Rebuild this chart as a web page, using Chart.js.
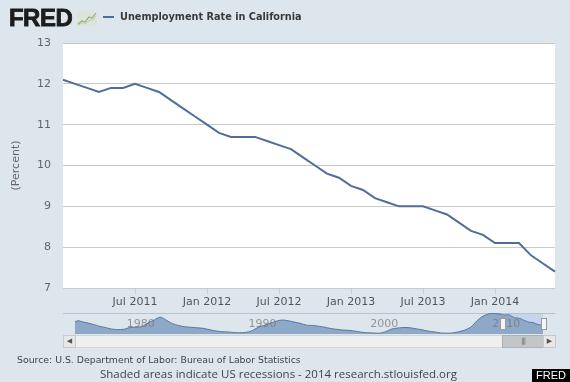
<!DOCTYPE html>
<html><head><meta charset="utf-8">
<script src="https://cdn.jsdelivr.net/npm/chart.js@4.4.1/dist/chart.umd.min.js"></script>
<style>
html,body{margin:0;padding:0;background:#dde5ed;}
#wrap{position:relative;width:570px;height:382px;overflow:hidden;background:#dde5ed;font-family:"DejaVu Sans",sans-serif;}
canvas{position:absolute;}
.abs{position:absolute;white-space:nowrap;line-height:1;display:inline-block;}
</style></head>
<body><div id="wrap">
<canvas id="main" width="570" height="382" style="left:0;top:0"></canvas>

<div id="logo" class="abs" style="font-family:'Liberation Sans',Arial,sans-serif;font-weight:bold;font-size:22px;color:#1c1c1c;letter-spacing:-0.5px;-webkit-text-stroke:0.8px #1c1c1c;">FRED</div>
<svg class="abs" style="left:77px;top:11px" width="20" height="15" viewBox="0 0 20 15">
  <rect x="0" y="0" width="20" height="15" fill="#dfe4da"/>
  <polyline points="1,13 5,10 8,11 12,6 15,7 19,2" fill="none" stroke="#8fb07a" stroke-width="1.2"/>
  <polyline points="1,14 5,12 9,12 13,9 16,9 19,5" fill="none" stroke="#b9ccae" stroke-width="1"/>
</svg>
<div class="abs" style="left:103px;top:16px;width:11px;height:2px;background:#4f6e97"></div>
<div id="legend" class="abs" style="font-weight:bold;font-size:10px;color:#3a3a3a;">Unemployment Rate in California</div>

<div class="abs" style="left:63px;top:313px;width:492px;height:1px;background:#b9c1cc"></div>
<div class="abs" style="left:502px;top:314px;width:41px;height:20px;background:#c4d5ec"></div>
<canvas id="nav" width="468" height="21" style="left:75px;top:313px"></canvas>
<div class="abs" style="left:500px;top:318px;width:4px;height:10px;background:#f4f4f4;border:1px solid #9a9a9a"></div>
<div class="abs" style="left:541px;top:318px;width:4px;height:10px;background:#f4f4f4;border:1px solid #9a9a9a"></div>

<div class="abs" style="left:63px;top:335px;width:491px;height:11px;background:#efefef;border:1px solid #d6d6d6;box-sizing:content-box"></div>
<div class="abs" style="left:63px;top:335px;width:11px;height:11px;background:#e8e8e8;border:1px solid #c9c9c9;font-size:7px;color:#555;text-align:center;line-height:11px">&#9664;</div>
<div class="abs" style="left:502px;top:335px;width:40px;height:11px;background:#c3c6c9;border:1px solid #b0b0b0;font-size:7px;color:#666;text-align:center;line-height:11px;letter-spacing:-1px">|||</div>
<div class="abs" style="left:543px;top:335px;width:11px;height:11px;background:#e8e8e8;border:1px solid #c9c9c9;font-size:7px;color:#555;text-align:center;line-height:11px">&#9654;</div>

<div id="source" class="abs" style="font-size:8px;color:#444;">Source: U.S. Department of Labor: Bureau of Labor Statistics</div>
<div id="shaded" class="abs" style="font-family:'Open Sans',sans-serif;font-size:11px;color:#444;">Shaded areas indicate US recessions - 2014 research.stlouisfed.org</div>
<div class="abs" style="left:532px;top:369px;width:38px;height:13px;background:#000;color:#fff;font-family:'Liberation Sans',Arial,sans-serif;font-size:11px;line-height:13px;text-align:center">FRED</div>
</div>

<script>
// ---- Data ----
const months = [
  "Jan 2011","Feb 2011","Mar 2011","Apr 2011","May 2011","Jun 2011","Jul 2011","Aug 2011","Sep 2011","Oct 2011","Nov 2011","Dec 2011",
  "Jan 2012","Feb 2012","Mar 2012","Apr 2012","May 2012","Jun 2012","Jul 2012","Aug 2012","Sep 2012","Oct 2012","Nov 2012","Dec 2012",
  "Jan 2013","Feb 2013","Mar 2013","Apr 2013","May 2013","Jun 2013","Jul 2013","Aug 2013","Sep 2013","Oct 2013","Nov 2013","Dec 2013",
  "Jan 2014","Feb 2014","Mar 2014","Apr 2014","May 2014","Jun 2014"
];
const unemploymentRate = [
  12.1,12.0,11.9,11.8,11.9,11.9,12.0,11.9,11.8,11.6,11.4,11.2,
  11.0,10.8,10.7,10.7,10.7,10.6,10.5,10.4,10.2,10.0,9.8,9.7,
  9.5,9.4,9.2,9.1,9.0,9.0,9.0,8.9,8.8,8.6,8.4,8.3,
  8.1,8.1,8.1,7.8,7.6,7.4
];
const xTickLabels = ["Jul 2011","Jan 2012","Jul 2012","Jan 2013","Jul 2013","Jan 2014"];
const yMin = 7, yMax = 13, yStep = 1;

// navigator history (year, value)
const navHistYears = [1976.0,1976.3,1976.6,1977.0,1977.5,1978.0,1978.5,1979.0,1979.5,1980.0,1980.5,1981.0,1981.5,1982.0,1982.5,1983.0,1983.5,1984.0,1984.5,1985.0,1985.5,1986.0,1986.5,1987.0,1987.5,1988.0,1988.5,1989.0,1989.5,1990.0,1990.5,1991.0,1991.5,1992.0,1992.5,1993.0,1993.5,1994.0,1994.5,1995.0,1995.5,1996.0,1996.5,1997.0,1997.5,1998.0,1998.5,1999.0,1999.5,2000.0,2000.5,2001.0,2001.5,2002.0,2002.5,2003.0,2003.5,2004.0,2004.5,2005.0,2005.5,2006.0,2006.5,2007.0,2007.5,2008.0,2008.5,2009.0,2009.5,2010.0,2010.5];
const navHistValues = [9.3,9.6,9.2,8.8,8.2,7.5,7.0,6.4,6.2,6.3,7.0,7.1,7.4,8.8,9.9,11.0,9.8,8.5,7.8,7.3,7.1,6.9,6.7,6.2,5.7,5.4,5.3,5.1,5.0,5.1,5.7,7.0,7.8,8.6,9.4,9.9,9.6,9.1,8.6,7.9,7.8,7.5,7.1,6.6,6.3,6.0,5.9,5.6,5.2,5.0,4.9,4.8,5.4,6.4,6.8,7.0,6.9,6.5,6.1,5.6,5.3,4.9,4.8,4.9,5.4,6.0,7.2,9.6,11.4,12.3,12.4];
const navTickYears = [1980,1990,2000,2010];

const FONT = "'DejaVu Sans', sans-serif";

// ---- text fitting helpers ----
function fit(id, targetW, left, cy){
  const el = document.getElementById(id);
  const fs = parseFloat(getComputedStyle(el).fontSize);
  const w = el.getBoundingClientRect().width;
  el.style.fontSize = (fs*targetW/w) + 'px';
  const h = el.getBoundingClientRect().height;
  el.style.left = left + 'px';
  el.style.top = (cy - h/2) + 'px';
}
fit('logo', 63, 9, 18);
fit('legend', 182, 120, 17);
fit('source', 284, 17, 360);
fit('shaded', 357, 100, 374);

// ---- main chart ----
const plotBg = {
  id:'plotBg',
  beforeDraw(chart){
    const {ctx, chartArea:a} = chart;
    ctx.save(); ctx.fillStyle = '#ffffff';
    ctx.fillRect(a.left, a.top, a.right-a.left, a.bottom-a.top);
    ctx.restore();
  }
};

new Chart(document.getElementById('main'), {
  type:'line',
  data:{ labels: months, datasets:[{
    label:'Unemployment Rate in California',
    data: unemploymentRate,
    borderColor:'#4f6e97', borderWidth:2, pointRadius:0, tension:0, fill:false
  }]},
  options:{
    responsive:false, animation:false,
    layout:{padding:{top:43,right:15,bottom:0,left:0}},
    plugins:{legend:{display:false}, tooltip:{enabled:false}},
    scales:{
      x:{
        type:'category', offset:false,
        grid:{drawOnChartArea:false, drawTicks:true, tickLength:6,
          color:(c)=> (c.tick && xTickLabels.includes(months[c.tick.value])) ? '#c8d0da' : 'rgba(0,0,0,0)'},
        border:{display:false},
        ticks:{autoSkip:false, maxRotation:0, minRotation:0, padding:2, color:'#555',
          font:{family:FONT, size:11},
          callback:(v,i)=> xTickLabels.includes(months[i]) ? months[i] : ''},
        afterFit:(s)=>{ s.height = 94; }
      },
      y:{
        min:yMin, max:yMax,
        ticks:{stepSize:yStep, padding:12, color:'#666', font:{family:FONT, size:11}},
        grid:{color:'#c9c9c9', drawTicks:false, lineWidth:1},
        border:{display:false},
        title:{display:true, text:'(Percent)', color:'#666', font:{family:FONT, size:11}, padding:{top:10,bottom:0}},
        afterFit:(s)=>{ s.width = 63; }
      }
    }
  },
  plugins:[plotBg]
});

// ---- navigator chart ----
const navData = navHistYears.map((y,i)=>({x:y, y:navHistValues[i]}))
  .concat(unemploymentRate.map((v,i)=>({x:2011 + i/12, y:v})));

const navLabels = {
  id:'navLabels',
  afterDatasetsDraw(chart){
    const {ctx, chartArea:a, scales:{x}} = chart;
    ctx.save();
    ctx.font = "11px " + FONT; ctx.fillStyle = 'rgba(120,120,120,0.75)';
    ctx.textAlign = 'left'; ctx.textBaseline = 'middle';
    navTickYears.forEach(yr => ctx.fillText(String(yr), x.getPixelForValue(yr) + 3, a.top + 11));
    ctx.restore();
  }
};

new Chart(document.getElementById('nav'), {
  type:'line',
  data:{ datasets:[{ data: navData, borderColor:'#56779f', borderWidth:1, backgroundColor:'#8ea8c8',
    fill:'origin', pointRadius:0, tension:0.3 }]},
  options:{
    responsive:false, animation:false,
    layout:{padding:0},
    plugins:{legend:{display:false}, tooltip:{enabled:false}},
    scales:{
      x:{type:'linear', min:1976, max:2011 + 41/12, display:false},
      y:{min:4.5, max:12.6, display:false}
    }
  },
  plugins:[navLabels]
});
</script>
</body></html>
